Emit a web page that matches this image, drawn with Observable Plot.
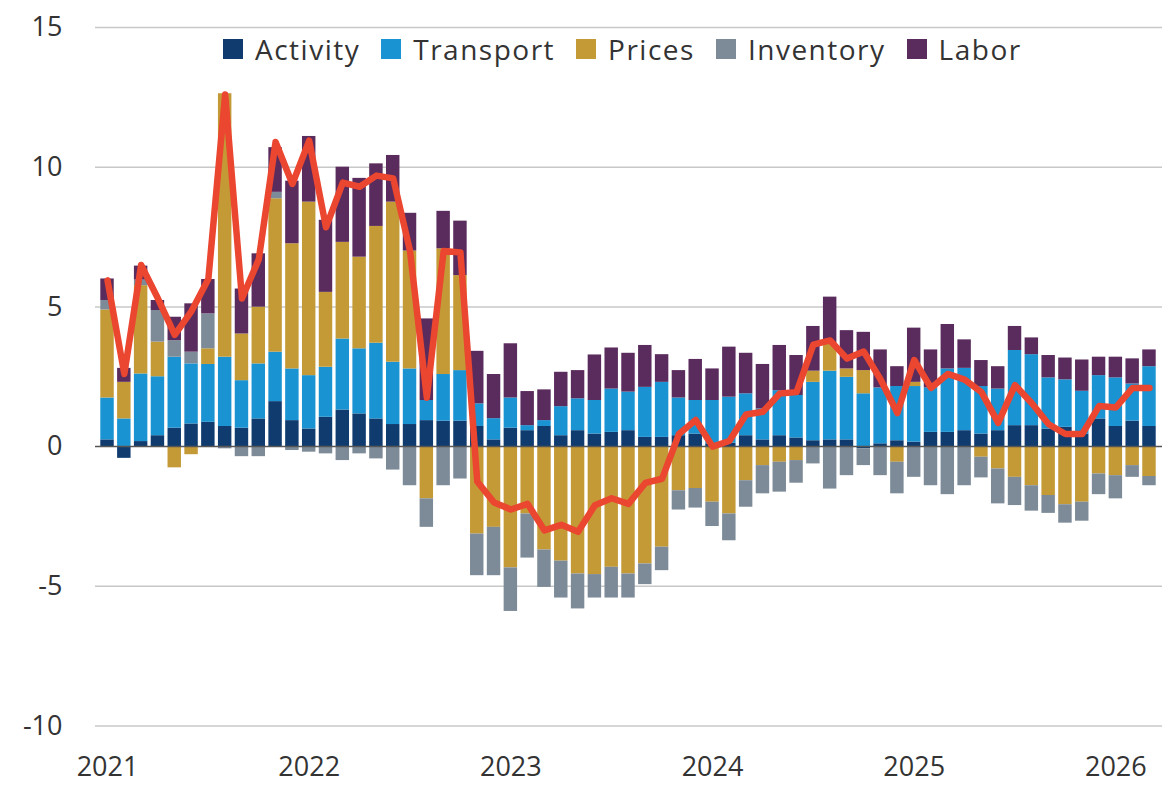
<!DOCTYPE html>
<html><head><meta charset="utf-8">
<script src="https://cdn.jsdelivr.net/npm/d3@7"></script>
<script src="https://cdn.jsdelivr.net/npm/@observablehq/plot@0.6"></script>
<style>
body{margin:0;background:#fff;}
#wrap{position:relative;width:1171px;height:789px;font-family:"Open Sans",sans-serif;}
#legend{position:absolute;left:223px;top:29px;height:40px;display:flex;align-items:center;font-size:28px;letter-spacing:1.5px;color:#333;z-index:2;}
.item{display:flex;align-items:center;margin-right:21px;}
.sw{width:20px;height:20px;margin-right:12px;flex:none;}
#chart{position:absolute;left:0;top:0;}
</style></head><body>
<div id="wrap"><div id="chart"></div><div id="legend"></div></div>
<script>
const months = ["2021-01","2021-02","2021-03","2021-04","2021-05","2021-06","2021-07","2021-08","2021-09","2021-10","2021-11","2021-12",
"2022-01","2022-02","2022-03","2022-04","2022-05","2022-06","2022-07","2022-08","2022-09","2022-10","2022-11","2022-12",
"2023-01","2023-02","2023-03","2023-04","2023-05","2023-06","2023-07","2023-08","2023-09","2023-10","2023-11","2023-12",
"2024-01","2024-02","2024-03","2024-04","2024-05","2024-06","2024-07","2024-08","2024-09","2024-10","2024-11","2024-12",
"2025-01","2025-02","2025-03","2025-04","2025-05","2025-06","2025-07","2025-08","2025-09","2025-10","2025-11","2025-12",
"2026-01","2026-02","2026-03"];
const seriesNames = ["Activity","Transport","Prices","Inventory","Labor"];
const seriesColors = ["#0f3b6f","#1a93d3","#c49a36","#7d8b98","#5a2b5d"];
const activity = [0.24,-0.42,0.18,0.39,0.66,0.81,0.87,0.72,0.66,0.99,1.61,0.93,
 0.63,1.05,1.31,1.17,0.99,0.79,0.79,0.93,0.91,0.91,0.72,0.24,
 0.66,0.57,0.72,0.39,0.57,0.45,0.51,0.57,0.33,0.33,0.39,0.45,
 0.10,0.12,0.39,0.24,0.39,0.31,0.21,0.24,0.24,-0.08,0.10,0.21,
 0.16,0.51,0.51,0.57,0.45,0.57,0.75,0.75,0.63,0.69,0.45,0.99,
 0.72,0.91,0.72];
const transport = [1.50,0.99,2.42,2.11,2.54,2.15,2.07,2.48,1.70,1.97,1.77,1.85,
 1.91,1.79,2.54,2.33,2.71,2.23,1.99,0.72,1.67,1.81,0.81,0.76,
 1.08,0.18,0.21,1.04,1.14,1.20,1.55,1.38,1.79,1.97,1.35,1.20,
 1.55,1.65,1.50,1.11,1.61,1.52,2.09,2.46,2.24,1.89,2.00,1.94,
 1.99,1.59,2.27,2.23,1.70,1.49,2.69,2.54,1.83,1.70,1.53,1.55,
 1.74,1.33,2.14];
const prices = [3.15,1.31,3.16,1.24,-0.76,-0.29,0.56,9.43,1.67,2.03,5.49,4.48,
 6.21,2.68,3.46,3.28,4.18,5.73,4.22,-1.87,4.50,3.40,-3.13,-2.89,
 -4.34,-2.41,-3.70,-4.10,-4.56,-4.58,-4.32,-4.56,-4.20,-3.60,-1.58,-1.50,
 -1.99,-2.41,-1.22,-0.68,-0.56,-0.50,0.40,1.00,0.30,0.83,0,-0.56,
 0.15,0,0,0,-0.38,-0.80,-1.10,-1.40,-1.75,-2.08,-1.99,-0.98,
 -1.04,-0.68,-1.07];
const inventory = [0.34,0,0.20,1.13,0.59,0.42,1.25,-0.08,-0.36,-0.36,0.23,-0.14,
 -0.20,-0.26,-0.50,-0.26,-0.44,-0.84,-1.40,-1.02,-1.40,-1.16,-1.49,-1.73,
 -1.56,-1.58,-1.34,-1.32,-1.25,-0.84,-1.10,-0.86,-0.74,-0.84,-0.69,-0.70,
 -0.87,-0.96,-0.95,-1.01,-1.07,-0.81,-0.62,-1.52,-1.04,-0.60,-1.04,-1.13,
 -1.10,-1.40,-1.72,-1.40,-0.74,-1.25,-1.01,-0.91,-0.64,-0.66,-0.68,-0.74,
 -0.83,-0.42,-0.33];
const labor = [0.77,0.50,0.50,0.36,0.84,1.73,1.23,0,1.61,1.91,1.60,2.24,
 2.35,2.58,2.69,2.82,2.24,1.67,1.35,2.92,1.34,1.95,1.88,1.58,
 1.94,1.22,1.10,1.23,1.01,1.63,1.47,1.39,1.50,0.99,0.98,1.47,
 1.13,1.79,1.45,1.59,1.62,1.43,1.60,1.65,1.37,1.37,1.36,0.71,
 1.94,1.36,1.59,1.02,0.93,0.80,0.86,0.60,0.80,0.78,1.12,0.66,
 0.74,0.90,0.60];
const headline = [5.95,2.6,6.5,5.3,4.0,4.85,6.0,12.6,5.3,6.7,10.9,9.4,
 10.95,7.85,9.45,9.3,9.7,9.6,7.0,1.75,7.0,6.95,-1.25,-2.0,
 -2.25,-2.05,-3.0,-2.8,-3.05,-2.1,-1.85,-2.05,-1.3,-1.15,0.45,0.95,
 0.0,0.2,1.15,1.25,1.9,1.95,3.65,3.8,3.15,3.4,2.4,1.2,
 3.1,2.1,2.6,2.4,1.95,0.85,2.2,1.55,0.8,0.45,0.45,1.45,
 1.4,2.1,2.1];
const yTicks = [-10,-5,0,5,10,15];
const yTickLabels = ["-10","-5","0","5","10","15"];
const yearLabels = ["2021","2022","2023","2024","2025","2026"];

const components = [activity, transport, prices, inventory, labor];
const rows = months.flatMap((m, i) => seriesNames.map((s, j) => ({month: m, series: s, value: components[j][i]})));
const lineRows = months.map((m, i) => ({month: m, value: headline[i]}));
const yearTicks = yearLabels.map(y => y + "-01");

const chart = Plot.plot({
  width: 1171, height: 789,
  marginLeft: 95, marginRight: 9, marginTop: 27, marginBottom: 63.5,
  style: {fontFamily: "'Open Sans', sans-serif", fontSize: "27px", color: "#333", background: "transparent"},
  x: {type: "band", domain: months, range: [100.3, 1155.7], paddingInner: 0.2, paddingOuter: 0},
  y: {domain: [-10, 15]},
  color: {domain: seriesNames, range: seriesColors},
  marks: [
    Plot.ruleY(yTicks.filter(d => d !== 0), {stroke: "#c8c8c8", strokeWidth: 1.5}),
    Plot.barY(rows, {x: "month", y: "value", fill: "series", order: seriesNames}),
    Plot.ruleY([0], {stroke: "#555", strokeWidth: 1.5}),
    Plot.lineY(lineRows, {x: "month", y: "value", stroke: "#ea4630", strokeWidth: 6.5, strokeLinejoin: "round", strokeLinecap: "round"}),
    Plot.axisY(yTicks, {tickSize: 0, tickPadding: 33, fontSize: 27, label: null, tickFormat: d => yTickLabels[yTicks.indexOf(d)]}),
    Plot.axisX(yearTicks, {tickSize: 0, tickPadding: 31, fontSize: 27, label: null, tickFormat: d => yearLabels[yearTicks.indexOf(d)]})
  ]
});
document.getElementById("chart").appendChild(chart);

const legend = document.getElementById("legend");
seriesNames.forEach((s, i) => {
  const item = document.createElement("div");
  item.className = "item";
  const sw = document.createElement("div");
  sw.className = "sw";
  sw.style.background = seriesColors[i];
  const t = document.createElement("span");
  t.textContent = s;
  item.appendChild(sw); item.appendChild(t);
  legend.appendChild(item);
});
</script>
</body></html>
